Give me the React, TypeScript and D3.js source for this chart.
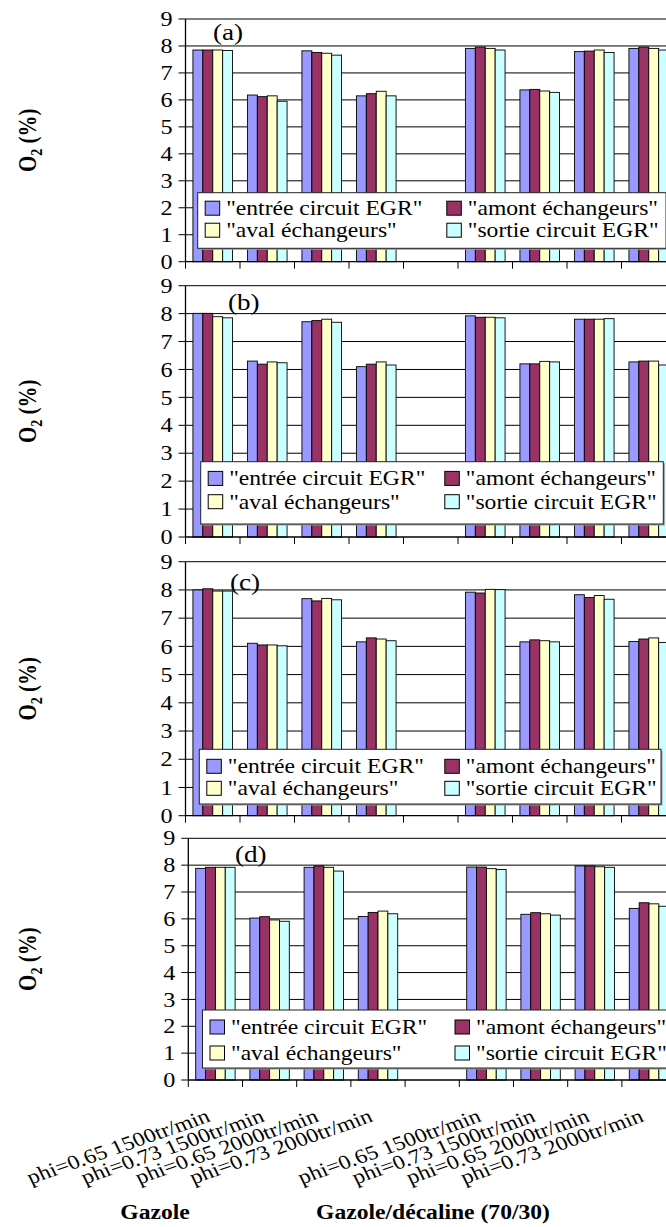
import React from "react";
import * as d3 from "d3";

const categories = [
  "phi=0.65 1500tr/min",
  "phi=0.73 1500tr/min",
  "phi=0.65 2000tr/min",
  "phi=0.73 2000tr/min",
  "",
  "phi=0.65 1500tr/min",
  "phi=0.73 1500tr/min",
  "phi=0.65 2000tr/min",
  "phi=0.73 2000tr/min",
];
const seriesNames = [
  '"entrée circuit EGR"',
  '"amont échangeurs"',
  '"aval échangeurs"',
  '"sortie circuit EGR"',
];
const seriesColors = ["#9999FF", "#993366", "#FFFFCC", "#CCFFFF"];
const yTicks = [0, 1, 2, 3, 4, 5, 6, 7, 8, 9];
const panelLabels = ["(a)", "(b)", "(c)", "(d)"];
const groupLabels = ["Gazole", "Gazole/décaline (70/30)"];

// Panel (a)
const a_entree = [7.85, 6.18, 7.82, 6.15, null, 7.91, 6.37, 7.79, 7.91];
const a_amont = [7.85, 6.12, 7.76, 6.23, null, 7.96, 6.39, 7.81, 7.96];
const a_aval = [7.85, 6.15, 7.73, 6.32, null, 7.91, 6.33, 7.85, 7.91];
const a_sortie = [7.83, 5.95, 7.66, 6.15, null, 7.85, 6.28, 7.76, 7.85];
// Panel (b)
const b_entree = [8.01, 6.3, 7.71, 6.1, null, 7.92, 6.2, 7.8, 6.27];
const b_amont = [8.01, 6.19, 7.75, 6.19, null, 7.87, 6.2, 7.8, 6.3];
const b_aval = [7.89, 6.27, 7.8, 6.27, null, 7.87, 6.29, 7.8, 6.3];
const b_sortie = [7.85, 6.24, 7.69, 6.16, null, 7.85, 6.27, 7.82, 6.16];
// Panel (c)
const c_entree = [8.0, 6.11, 7.69, 6.16, null, 7.92, 6.16, 7.83, 6.17];
const c_amont = [8.04, 6.05, 7.61, 6.3, null, 7.89, 6.23, 7.73, 6.26];
const c_aval = [7.96, 6.05, 7.7, 6.26, null, 8.02, 6.2, 7.8, 6.3];
const c_sortie = [7.96, 6.02, 7.65, 6.2, null, 8.01, 6.16, 7.67, 6.14];
// Panel (d)
const d_entree = [7.88, 6.03, 7.92, 6.09, null, 7.93, 6.17, 7.97, 6.39];
const d_amont = [7.92, 6.08, 7.97, 6.24, null, 7.93, 6.23, 7.97, 6.6];
const d_aval = [7.92, 5.96, 7.92, 6.29, null, 7.87, 6.19, 7.94, 6.56];
const d_sortie = [7.92, 5.91, 7.78, 6.19, null, 7.84, 6.14, 7.92, 6.47];

const panelData = [
  [a_entree, a_amont, a_aval, a_sortie],
  [b_entree, b_amont, b_aval, b_sortie],
  [c_entree, c_amont, c_aval, c_sortie],
  [d_entree, d_amont, d_aval, d_sortie],
];

// layout (not data)
const layouts = [
  { left: 185.5, band: 54.5, top: 19, bottom: 261.7, lab: [213, 40],
    leg: { x: 197.7, y: 192.7, w: 468.3, h: 55.6, r1: 15.5, r2: 37.5, c2: 241.6 } },
  { left: 185.5, band: 54.5, top: 285.7, bottom: 537, lab: [228, 310],
    leg: { x: 200.7, y: 461.7, w: 462.6, h: 62.3, r1: 16.7, r2: 40, c2: 236.6 } },
  { left: 185.5, band: 54.5, top: 561.7, bottom: 815.7, lab: [230, 590],
    leg: { x: 199.3, y: 749.3, w: 461.7, h: 54.7, r1: 17, r2: 39, c2: 238 } },
  { left: 188.3, band: 54.2, top: 838.3, bottom: 1080, lab: [235, 862],
    leg: { x: 202.5, y: 1010, w: 480, h: 58, r1: 17, r2: 43, c2: 245 } },
];

const FONT = "'Liberation Serif', 'Times New Roman', serif";
const SX = 1.18; // horizontal stretch of the original picture

function T({ x, y, size, anchor = "start", bold = false, rot = 0, dy, children }: any) {
  return (
    <text
      transform={`translate(${x},${y}) scale(${SX},1)${rot ? ` rotate(${rot})` : ""}`}
      textAnchor={anchor}
      fontFamily={FONT}
      fontSize={size}
      fontWeight={bold ? "bold" : "normal"}
      dy={dy}
      fill="#000"
    >
      {children}
    </text>
  );
}

function Panel({ idx }: { idx: number }) {
  const L = layouts[idx];
  const data = panelData[idx];
  const x = d3
    .scaleBand<string>()
    .domain(categories.map((_, i) => String(i)))
    .range([L.left, L.left + L.band * categories.length])
    .padding(0);
  const bw = x.bandwidth();
  const gap = bw * (1.5 / 5.5);
  const xs = d3
    .scaleBand<string>()
    .domain(seriesNames)
    .range([gap / 2, bw - gap / 2])
    .padding(0);
  const y = d3.scaleLinear().domain([0, 9]).range([L.bottom, L.top]);
  const right = L.left + L.band * categories.length;
  const lg = L.leg;
  return (
    <g>
      {yTicks.slice(1).map((t) => (
        <line key={"g" + t} x1={L.left} x2={right} y1={y(t)} y2={y(t)} stroke="#000" strokeWidth={1} />
      ))}
      {data.map((vals, s) =>
        vals.map((v, c) =>
          v == null ? null : (
            <rect
              key={s + "-" + c}
              x={(x(String(c)) as number) + (xs(seriesNames[s]) as number)}
              y={y(v)}
              width={xs.bandwidth()}
              height={y(0) - y(v)}
              fill={seriesColors[s]}
              stroke="#000"
              strokeWidth={0.9}
            />
          )
        )
      )}
      <line x1={L.left} x2={L.left} y1={L.top} y2={L.bottom} stroke="#000" strokeWidth={1.3} />
      <line x1={L.left} x2={right} y1={L.bottom} y2={L.bottom} stroke="#000" strokeWidth={1.3} />
      {yTicks.map((t) => (
        <g key={"yt" + t}>
          <line x1={L.left - 7} x2={L.left} y1={y(t)} y2={y(t)} stroke="#000" strokeWidth={1} />
          <T x={L.left - 13} y={y(t)} dy="0.35em" anchor="end" size={20.5}>
            {t}
          </T>
        </g>
      ))}
      {d3.range(categories.length + 1).map((i) => (
        <line key={"xt" + i} x1={L.left + i * bw} x2={L.left + i * bw} y1={L.bottom} y2={L.bottom + 7} stroke="#000" strokeWidth={1} />
      ))}
      <T x={L.lab[0]} y={L.lab[1]} size={23}>
        {panelLabels[idx]}
      </T>
      <rect x={lg.x + 1.5} y={lg.y + 1.5} width={lg.w} height={lg.h} fill="#999" />
      <rect x={lg.x} y={lg.y} width={lg.w} height={lg.h} fill="#fff" stroke="#222" strokeWidth={1} />
      {seriesNames.map((n, s) => {
        const col = s % 2;
        const row = Math.floor(s / 2);
        const sx = lg.x + 7.5 + col * lg.c2;
        const cy = lg.y + (row === 0 ? lg.r1 : lg.r2);
        return (
          <g key={"lg" + s}>
            <rect x={sx} y={cy - 7} width={14.5} height={14} fill={seriesColors[s]} stroke="#000" strokeWidth={1} />
            <T x={sx + 21} y={cy} dy="0.35em" size={20}>
              {n}
            </T>
          </g>
        );
      })}
      <T x={36} y={(L.top + L.bottom) / 2} rot={-90} anchor="middle" bold size={21}>
        O<tspan fontSize={14} dy={5}>2</tspan>
        <tspan dy={-5}> (%)</tspan>
      </T>
    </g>
  );
}

export default function App() {
  const L = layouts[3];
  const x = d3
    .scaleBand<string>()
    .domain(categories.map((_, i) => String(i)))
    .range([L.left, L.left + L.band * categories.length]);
  const bw = x.bandwidth();
  return (
    <svg width={666} height={1227} style={{ position: "absolute", left: 0, top: 0, background: "#fff" }}>
      <rect x={0} y={0} width={666} height={1227} fill="#fff" />
      {[0, 1, 2, 3].map((i) => (
        <Panel key={i} idx={i} />
      ))}
      {categories.map((c, i) =>
        c ? (
          <T key={"xl" + i} x={(x(String(i)) as number) + bw / 2 - 4} y={L.bottom + 41} rot={-22.5} anchor="end" size={20}>
            {c}
          </T>
        ) : null
      )}
      <T x={155} y={1219} anchor="middle" bold size={20}>
        {groupLabels[0]}
      </T>
      <T x={433} y={1219} anchor="middle" bold size={20}>
        {groupLabels[1]}
      </T>
    </svg>
  );
}
